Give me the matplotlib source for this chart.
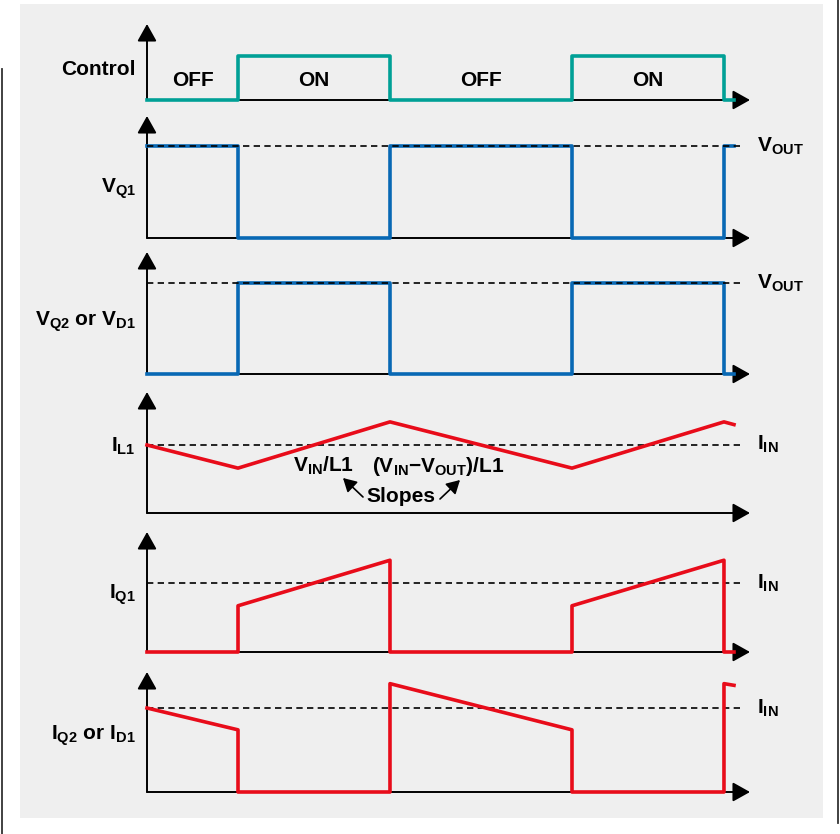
import matplotlib
matplotlib.use('Agg')
import matplotlib.pyplot as plt
from matplotlib.lines import Line2D
from matplotlib.patches import Rectangle

plt.rcParams['font.family'] = ['Liberation Sans', 'DejaVu Sans']
plt.rcParams['mathtext.fontset'] = 'custom'
plt.rcParams['mathtext.rm'] = 'Liberation Sans'
plt.rcParams['mathtext.bf'] = 'Liberation Sans:bold'
plt.rcParams['mathtext.it'] = 'Liberation Sans:italic'

# ---------------- data ----------------
phase_edges = [0, 1.0, 2.67, 4.67, 6.34]
phase_labels = ['OFF', 'ON', 'OFF', 'ON']

step_t = [0, 1.0, 1.0, 2.67, 2.67, 4.67, 4.67, 6.34, 6.34, 6.45]
control_v = [0, 0, 1, 1, 0, 0, 1, 1, 0, 0]
vq1_v = [1, 1, 0, 0, 1, 1, 0, 0, 1, 1]
vq2_v = [0, 0, 1, 1, 0, 0, 1, 1, 0, 0]
il1_t = [0, 1.0, 2.67, 4.67, 6.34, 6.45]
il1_v = [1.0, 0.66, 1.34, 0.66, 1.34, 1.30]
iq1_v = [0, 0, 0.67, 1.33, 0, 0, 0.67, 1.33, 0, 0]
iq2_v = [1.0, 0.74, 0, 0, 1.29, 0.74, 0, 0, 1.29, 1.27]
ref_level = 1.0
dash_end = 6.55
t_max = 6.626

TEAL = '#00a096'
BLUE = '#0868b4'
RED = '#e80c1a'

W, H = 840, 834
fig = plt.figure(figsize=(W / 100, H / 100), dpi=100)
fig.patch.set_facecolor('white')
fig.patches.append(Rectangle((20 / W, 1 - 818 / H), 803 / W, 814 / H,
                             transform=fig.transFigure, facecolor='#efefef',
                             edgecolor='none', zorder=-5))
fig.add_artist(Line2D([2 / W, 2 / W], [1 - 69 / H, 0], color='#333333', lw=1.3))
fig.add_artist(Line2D([838 / W, 838 / W], [1, 1 - 823 / H], color='#333333', lw=1.3))


def ftext(x, y, s, **kw):
    kw.setdefault('fontsize', 15)
    kw.setdefault('fontweight', 'bold')
    fig.text(x / W, 1 - y / H, s, **kw)


def panel(base, top, unit):
    ax = fig.add_axes([147 / W, 1 - base / H, (750 - 147) / W, (base - top) / H])
    ax.set_xlim(0, t_max)
    ax.set_ylim(0, (base - top) / unit)
    ax.axis('off')
    ap = dict(arrowstyle='-|>,head_length=0.75,head_width=0.42', lw=1.4,
              color='black', shrinkA=0, shrinkB=0, mutation_scale=14)
    ax.annotate('', xy=(1, 0), xytext=(0, 0), xycoords='axes fraction',
                textcoords='axes fraction', arrowprops=ap)
    ax.annotate('', xy=(0, 1), xytext=(0, 0), xycoords='axes fraction',
                textcoords='axes fraction', arrowprops=ap)
    return ax


def dashed(ax, z):
    ax.plot([0, dash_end], [ref_level, ref_level], color='black', lw=1.2,
            dashes=(3.8, 2.6), zorder=z, clip_on=False)


# Control
ax1 = panel(100, 24, 44)
ax1.plot(step_t, control_v, color=TEAL, lw=2.6, clip_on=False, zorder=3)
for i, lab in enumerate(phase_labels):
    xc = (phase_edges[i] + phase_edges[i + 1]) / 2
    ax1.text(xc, 0.45, lab, ha='center', va='center', fontsize=15,
             fontweight='bold')

# VQ1
ax2 = panel(238, 116, 92)
ax2.plot(step_t, vq1_v, color=BLUE, lw=2.6, clip_on=False, zorder=3)
dashed(ax2, 4)

# VQ2
ax3 = panel(374, 252, 91)
ax3.plot(step_t, vq2_v, color=BLUE, lw=2.6, clip_on=False, zorder=3)
dashed(ax3, 4)

# IL1
ax4 = panel(513, 392, 68)
dashed(ax4, 2)
ax4.plot(il1_t, il1_v, color=RED, lw=2.6, clip_on=False, zorder=3)

# IQ1
ax5 = panel(652, 532, 69)
dashed(ax5, 2)
ax5.plot(step_t, iq1_v, color=RED, lw=2.6, clip_on=False, zorder=3)

# IQ2
ax6 = panel(792, 672, 84)
dashed(ax6, 2)
ax6.plot(step_t, iq2_v, color=RED, lw=2.6, clip_on=False, zorder=3)

# ---------------- labels ----------------
ftext(136, 75, 'Control', ha='right', va='baseline')
ftext(136, 193, r'$\mathbf{V_{Q1}}$', ha='right', va='baseline')
ftext(136, 326, r'$\mathbf{V_{Q2}\ or\ V_{D1}}$', ha='right', va='baseline')
ftext(136, 452, r'$\mathbf{I_{L1}}$', ha='right', va='baseline')
ftext(136, 599, r'$\mathbf{I_{Q1}}$', ha='right', va='baseline')
ftext(136, 740, r'$\mathbf{I_{Q2}\ or\ I_{D1}}$', ha='right', va='baseline')

ftext(757, 152, r'$\mathbf{V_{OUT}}$', ha='left', va='baseline')
ftext(757, 289, r'$\mathbf{V_{OUT}}$', ha='left', va='baseline')
ftext(757, 450, r'$\mathbf{I_{IN}}$', ha='left', va='baseline')
ftext(757, 589, r'$\mathbf{I_{IN}}$', ha='left', va='baseline')
ftext(757, 714, r'$\mathbf{I_{IN}}$', ha='left', va='baseline')

ftext(293, 472, r'$\mathbf{V_{IN}/L1}$', ha='left', va='baseline')
ftext(372, 472, r'$\mathbf{(V_{IN}{-}V_{OUT})/L1}$', ha='left', va='baseline')
ftext(401, 502, 'Slopes', ha='center', va='baseline')

sap = dict(arrowstyle='-|>,head_length=0.8,head_width=0.45', lw=1.2,
           color='black', shrinkA=0, shrinkB=0, mutation_scale=10)
ax4.annotate('', xy=(343, H - 478), xytext=(363, H - 497),
             xycoords='figure pixels', textcoords='figure pixels', arrowprops=sap)
ax4.annotate('', xy=(460, H - 480), xytext=(440, H - 499),
             xycoords='figure pixels', textcoords='figure pixels', arrowprops=sap)

fig.savefig('out.png', dpi=100, facecolor='white')
